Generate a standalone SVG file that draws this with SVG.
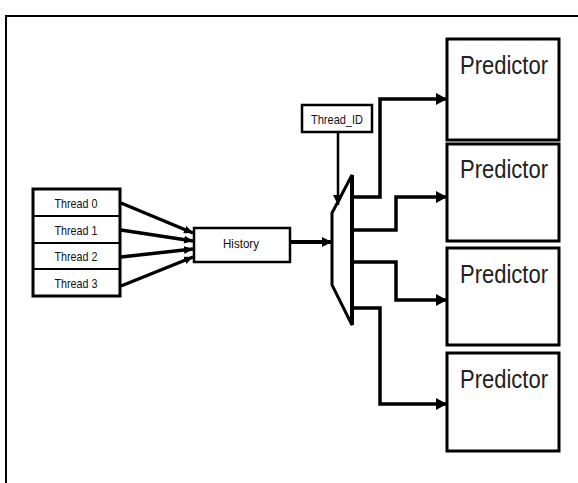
<svg xmlns="http://www.w3.org/2000/svg" width="578" height="483" viewBox="0 0 578 483">
  <style>
    .box { fill: #fff; stroke: #000; }
    .lbl { font-family: "Liberation Sans", Arial, sans-serif; fill: #111; text-anchor: middle; }
    .small { font-size: 13px; }
    .big { font-size: 26px; fill: #222; }
    .wire { fill: none; stroke: #000; stroke-linejoin: miter; }
  </style>
  <defs>
    <marker id="ah" markerUnits="userSpaceOnUse" markerWidth="11" markerHeight="12" refX="11" refY="6" orient="auto">
      <path d="M0,0 L11,6 L0,12 z" fill="#000"/>
    </marker>
    <marker id="ahm" markerUnits="userSpaceOnUse" markerWidth="10" markerHeight="10" refX="10" refY="5" orient="auto">
      <path d="M0,0 L10,5 L0,10 z" fill="#000"/>
    </marker>
    <marker id="ahs" markerUnits="userSpaceOnUse" markerWidth="9" markerHeight="8" refX="9" refY="4" orient="auto">
      <path d="M0,0 L9,4 L0,8 z" fill="#000"/>
    </marker>
  </defs>

  <rect width="578" height="483" fill="#fff"/>

  <!-- page frame -->
  <path d="M6,483 V16 H578" fill="none" stroke="#000" stroke-width="2"/>

  <!-- per-thread history registers -->
  <g id="threads">
    <rect class="box" x="33" y="189" width="87" height="107" stroke-width="3"/>
    <path d="M33,216 H120 M33,243 H120 M33,269 H120" stroke="#000" stroke-width="2"/>
    <text class="lbl small" x="76" y="207.5" textLength="43" lengthAdjust="spacingAndGlyphs">Thread 0</text>
    <text class="lbl small" x="76" y="234.5" textLength="43" lengthAdjust="spacingAndGlyphs">Thread 1</text>
    <text class="lbl small" x="76" y="261" textLength="43" lengthAdjust="spacingAndGlyphs">Thread 2</text>
    <text class="lbl small" x="76" y="287.5" textLength="43" lengthAdjust="spacingAndGlyphs">Thread 3</text>
  </g>

  <g id="history">
    <rect class="box" x="194" y="228" width="96" height="34" stroke-width="2.5"/>
    <text class="lbl small" x="241" y="248" textLength="36" lengthAdjust="spacingAndGlyphs">History</text>
  </g>

  <g id="thread-id">
    <rect class="box" x="302" y="105" width="70" height="27" stroke-width="2.5"/>
    <text class="lbl small" x="337" y="123.5" textLength="52" lengthAdjust="spacingAndGlyphs">Thread_ID</text>
  </g>

  <g id="mux">
    <polygon class="box" points="332,213 352,175 352,325 332,285" stroke-width="3"/>
    <line x1="352" y1="175" x2="352" y2="325" stroke="#000" stroke-width="4"/>
  </g>

  <g id="predictor-0">
    <rect class="box" x="447" y="39" width="112" height="101" stroke-width="3"/>
    <text class="lbl big" x="504" y="74" textLength="88" lengthAdjust="spacingAndGlyphs">Predictor</text>
  </g>
  <g id="predictor-1">
    <rect class="box" x="447" y="144" width="112" height="97" stroke-width="3"/>
    <text class="lbl big" x="504" y="178" textLength="88" lengthAdjust="spacingAndGlyphs">Predictor</text>
  </g>
  <g id="predictor-2">
    <rect class="box" x="447" y="248" width="112" height="97" stroke-width="3"/>
    <text class="lbl big" x="504" y="283" textLength="88" lengthAdjust="spacingAndGlyphs">Predictor</text>
  </g>
  <g id="predictor-3">
    <rect class="box" x="447" y="353" width="112" height="98" stroke-width="3"/>
    <text class="lbl big" x="504" y="388" textLength="88" lengthAdjust="spacingAndGlyphs">Predictor</text>
  </g>

  <g id="connectors">
    <!-- thread registers into history -->
    <line class="wire" x1="121" y1="203" x2="193" y2="233" stroke-width="3.5" marker-end="url(#ahs)"/>
    <line class="wire" x1="121" y1="230" x2="193" y2="241" stroke-width="3.5" marker-end="url(#ahs)"/>
    <line class="wire" x1="121" y1="257" x2="193" y2="249" stroke-width="3.5" marker-end="url(#ahs)"/>
    <line class="wire" x1="121" y1="286" x2="193" y2="257" stroke-width="3.5" marker-end="url(#ahs)"/>
    <!-- history into mux -->
    <line class="wire" x1="290" y1="242" x2="332" y2="242" stroke-width="4" marker-end="url(#ahm)"/>
    <!-- select line -->
    <line class="wire" x1="338" y1="132" x2="338" y2="205" stroke-width="2.5" marker-end="url(#ahm)"/>
    <!-- mux outputs to predictors -->
    <path class="wire" d="M352,197 H380 V99 H447" stroke-width="3.5" marker-end="url(#ah)"/>
    <path class="wire" d="M352,230 H396 V197 H447" stroke-width="3.5" marker-end="url(#ah)"/>
    <path class="wire" d="M352,262 H396 V300 H447" stroke-width="3.5" marker-end="url(#ah)"/>
    <path class="wire" d="M352,308 H380 V404 H447" stroke-width="3.5" marker-end="url(#ah)"/>
  </g>
</svg>
